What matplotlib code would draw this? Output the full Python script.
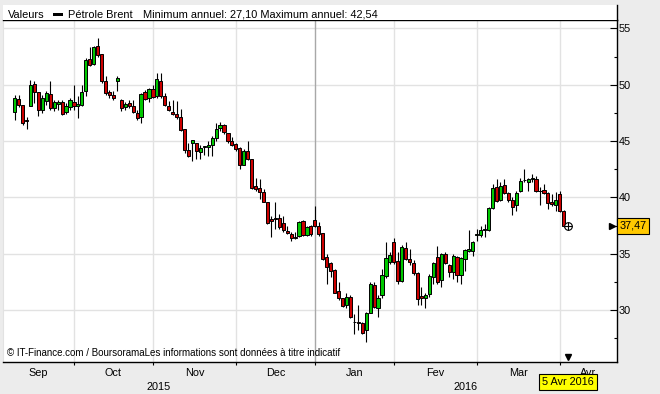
import numpy as np
import matplotlib.pyplot as plt
import matplotlib.transforms as mtransforms
from matplotlib.patches import Rectangle
from matplotlib.lines import Line2D

plt.rcParams['font.family'] = ['Liberation Sans', 'DejaVu Sans']

# months shown on the axis, with the number of sessions drawn in each
months = ['Sep', 'Oct', 'Nov', 'Dec', 'Jan', 'Fev', 'Mar', 'Avr']
month_years = [2015, 2015, 2015, 2015, 2016, 2016, 2016, 2016]
month_sessions = [15, 20, 21, 20, 20, 21, 21, 2]

opens = [47.59, 48.74, 48.21, 46.85, 48.15, 50.09, 49.38, 47.79, 48.59, 49.18,
         47.97, 48.32, 48.50, 47.59, 48.03, 48.44, 48.15, 48.21, 49.41, 52.26,
         51.85, 53.44, 52.73, 50.29, 49.38, 49.12, 50.29, 48.68, 48.03, 48.38,
         48.15, 47.50, 47.09, 49.32, 48.79, 49.62, 49.03, 50.32, 48.97, 48.15,
         47.61, 47.44, 47.14, 46.03, 44.20, 44.85, 44.85, 44.06, 44.47, 44.50,
         44.61, 45.23, 46.17, 46.38, 45.67, 44.97, 44.73, 44.41, 42.91, 44.09,
         43.38, 40.97, 40.79, 40.50, 39.62, 38.09, 38.20, 38.15, 37.71, 37.03,
         36.76, 36.47, 36.56, 37.94, 36.68, 37.44, 37.97, 37.44, 36.85, 34.70,
         34.17, 33.53, 31.70, 31.03, 30.44, 31.14, 28.93, 28.90, 28.82, 28.20,
         29.76, 32.26, 30.20, 31.32, 32.99, 34.26, 36.02, 34.32, 32.55, 35.50,
         34.55, 34.17, 33.32, 31.23, 31.03, 31.44, 32.94, 34.70, 32.64, 34.99,
         33.97, 33.38, 34.70, 33.08, 34.55, 35.20, 35.26, 36.67, 36.70, 37.14,
         37.14, 39.02, 40.88, 39.79, 41.08, 40.35, 39.79, 39.32, 40.58, 41.52,
         41.38, 41.61, 41.67, 40.58, 40.67, 40.38, 39.61, 39.32, 40.29, 38.82]
highs = [49.12, 49.06, 48.21, 47.15, 50.44, 50.29, 49.38, 49.12, 49.41, 50.35,
         48.68, 48.68, 48.68, 48.38, 48.82, 50.00, 48.97, 50.00, 52.35, 53.32,
         53.44, 54.11, 52.73, 50.73, 49.56, 49.41, 50.79, 48.76, 48.44, 48.68,
         48.62, 47.79, 49.26, 49.56, 49.71, 50.00, 51.03, 51.03, 49.26, 48.53,
         48.67, 48.53, 47.85, 46.03, 44.85, 45.06, 44.85, 44.61, 44.53, 45.00,
         45.44, 46.61, 46.67, 46.47, 45.67, 45.38, 44.79, 44.50, 44.32, 45.00,
         43.38, 41.76, 41.62, 40.73, 39.62, 38.38, 39.56, 38.53, 38.38, 37.50,
         36.97, 36.91, 37.94, 38.03, 37.50, 37.56, 39.20, 37.79, 36.85, 34.99,
         34.26, 33.61, 32.50, 31.09, 31.47, 31.32, 29.62, 30.44, 28.97, 29.85,
         32.50, 32.50, 31.32, 33.67, 36.02, 35.14, 36.38, 35.14, 35.73, 36.08,
         35.44, 34.41, 33.38, 32.06, 31.47, 33.20, 34.26, 35.67, 35.08, 35.14,
         34.11, 34.99, 34.79, 34.70, 35.44, 37.14, 36.17, 37.20, 37.49, 37.64,
         39.11, 41.17, 41.61, 41.32, 41.61, 40.44, 39.99, 40.58, 41.76, 42.49,
         41.76, 42.05, 41.91, 40.88, 41.17, 40.44, 40.29, 40.44, 40.58, 38.91]
lows = [46.85, 48.03, 46.41, 46.09, 48.09, 48.38, 47.21, 47.50, 48.24, 47.79,
        47.65, 47.79, 47.35, 47.44, 47.79, 47.79, 47.06, 48.09, 48.97, 51.62,
        51.76, 52.50, 50.15, 49.12, 48.82, 48.68, 49.41, 47.65, 47.79, 47.94,
        47.50, 46.85, 46.62, 48.62, 48.44, 48.82, 48.82, 48.82, 48.09, 47.65,
        47.35, 46.97, 45.88, 43.97, 43.61, 43.23, 43.44, 43.44, 43.73, 43.67,
        43.67, 45.00, 45.88, 45.59, 44.85, 44.56, 44.11, 42.56, 42.85, 43.32,
        40.73, 40.59, 39.85, 39.56, 37.65, 36.47, 37.21, 37.21, 36.91, 36.76,
        36.17, 36.32, 36.47, 36.61, 36.61, 36.61, 37.35, 36.61, 34.41, 32.35,
        32.94, 31.47, 30.88, 30.29, 30.14, 29.32, 27.85, 28.23, 27.85, 27.20,
        29.70, 30.14, 29.41, 31.03, 32.85, 34.11, 34.11, 32.35, 32.50, 34.41,
        33.97, 33.08, 30.44, 30.44, 30.14, 31.20, 32.35, 32.35, 32.06, 34.11,
        32.94, 32.79, 32.50, 32.35, 33.44, 35.14, 34.79, 36.17, 36.47, 36.47,
        37.05, 38.96, 39.55, 39.70, 40.29, 39.55, 38.44, 38.82, 40.44, 41.38,
        40.58, 41.32, 40.44, 39.32, 40.29, 38.96, 39.26, 38.82, 38.73, 37.40]
closes = [48.82, 48.21, 46.62, 46.74, 49.97, 49.38, 47.79, 48.82, 49.26, 47.94,
          48.44, 48.50, 47.44, 48.09, 48.68, 48.15, 48.26, 49.38, 52.20, 51.73,
          53.32, 52.62, 50.29, 49.26, 49.09, 48.82, 50.59, 47.94, 48.32, 48.09,
          47.62, 47.03, 49.21, 48.74, 49.62, 48.91, 50.50, 48.97, 48.24, 47.79,
          47.44, 47.14, 45.94, 44.20, 43.67, 45.06, 44.11, 44.41, 44.53, 44.61,
          45.23, 46.09, 46.38, 45.79, 44.97, 44.67, 44.32, 42.91, 44.15, 43.38,
          40.79, 40.73, 40.44, 39.62, 37.74, 37.94, 38.09, 37.35, 37.06, 36.85,
          36.38, 36.38, 37.85, 36.68, 37.41, 36.76, 37.50, 36.71, 34.55, 33.82,
          33.47, 31.53, 31.03, 30.38, 31.14, 29.41, 28.90, 28.85, 28.00, 29.76,
          32.35, 30.29, 31.03, 33.14, 34.61, 34.91, 34.26, 32.55, 35.58, 34.55,
          34.26, 33.32, 30.97, 31.09, 31.32, 33.03, 34.17, 32.50, 34.99, 34.20,
          33.38, 34.76, 33.14, 34.61, 35.29, 35.44, 36.08, 36.73, 37.14, 37.17,
          39.02, 40.82, 39.64, 41.02, 40.35, 39.79, 39.11, 40.38, 41.47, 41.55,
          41.61, 41.76, 40.58, 40.55, 40.38, 39.47, 39.38, 39.76, 38.82, 37.47]

legend_label = 'Pétrole Brent'
legend_stats = 'Minimum annuel: 27,10 Maximum annuel: 42,54'
source_note = '© IT-Finance.com / BoursoramaLes informations sont données à titre indicatif'
current_date = '5 Avr 2016'

W, H = 660, 394
fig = plt.figure(figsize=(W / 100, H / 100), dpi=100, facecolor='#ECECEC')

# plot area in pixels: x 3..617, y 20..362
ax = fig.add_axes([3 / W, (H - 362) / H, 614 / W, 342 / H])
ax.set_facecolor('white')

n = len(closes)
idx = np.arange(n)
o = np.array(opens); c = np.array(closes)
hi = np.array(highs); lo = np.array(lows)
up = c >= o
cols = np.where(up, '#00C800', '#CC0000')
ax.vlines(idx, lo, hi, color='black', linewidth=0.8, zorder=3)
ax.bar(idx, np.maximum(np.abs(c - o), 0.02), bottom=np.minimum(o, c), width=0.8,
       color=cols, edgecolor='black', linewidth=0.7, zorder=4)

starts = np.concatenate([[0], np.cumsum(month_sessions)[:-1]])
x0, x1 = -2.96, 152.5
ax.set_xlim(x0, x1)
ax.set_ylim(25.39, 55.74)

# grid
for s, yr, prev in zip(starts[1:], month_years[1:], month_years[:-1]):
    ax.axvline(s, color='#A8A8A8' if yr != prev else '#E2E2E2', linewidth=1, zorder=1)
ax.set_yticks(np.arange(30, 56, 5))
ax.set_yticks(np.arange(27.5, 55, 5), minor=True)
ax.yaxis.grid(True, which='major', color='#E2E2E2', linewidth=1, zorder=0)
ax.set_axisbelow(True)

ax.yaxis.tick_right()
ax.tick_params(axis='y', which='major', direction='in', length=5, width=0.8,
               labelsize=7.8, pad=1.5, colors='black')
ax.tick_params(axis='y', which='minor', direction='in', length=2.2, width=0.8)
ax.set_xticks(starts[1:])
ax.set_xticklabels([])
ax.tick_params(axis='x', direction='out', length=2.5, width=0.8)

for side in ['top', 'right', 'bottom']:
    ax.spines[side].set_color('black')
    ax.spines[side].set_linewidth(1)
ax.spines['left'].set_color('#E2E2E2')

# legend band
fig.patches.append(Rectangle((3 / W, (H - 20) / H), 614 / W, 15 / H, transform=fig.transFigure,
                             facecolor='white', edgecolor='none', zorder=0))
fig.lines.append(Line2D([617 / W, 617 / W], [(H - 5) / H, (H - 20) / H], transform=fig.transFigure,
                        color='black', linewidth=1))
ty = 1 - 14.5 / H
fig.text(8 / W, ty, 'Valeurs', fontsize=7.9, va='center')
fig.patches.append(Rectangle((53 / W, 1 - 16 / H), 10 / W, 3 / H, transform=fig.transFigure,
                             facecolor='black', edgecolor='none'))
fig.text(68 / W, ty, legend_label, fontsize=7.9, va='center')
fig.text(143 / W, ty, legend_stats, fontsize=7.9, va='center')

fig.text(7 / W, 1 - 353 / H, source_note, fontsize=7.0, va='center')

# month and year labels
bt = mtransforms.blended_transform_factory(ax.transData, fig.transFigure)
edges = list(starts) + [x1]
edges[0] = x0
for i, m in enumerate(months):
    ax.text((edges[i] + edges[i + 1]) / 2, 1 - 373 / H, m, transform=bt, fontsize=7.8,
            ha='center', va='center', clip_on=False, zorder=1)
year_break = starts[month_years.index(2016)]
ax.text((x0 + year_break) / 2, 1 - 387 / H, '2015', transform=bt, fontsize=7.8,
        ha='center', va='center')
ax.text((year_break + x1) / 2, 1 - 387 / H, '2016', transform=bt, fontsize=7.8,
        ha='center', va='center')

# current date markers
ax.plot([n], [closes[-1]], marker='o', ms=5.5, mfc='white', mec='black', mew=0.8,
        zorder=5, clip_on=False)
ax.plot([n], [closes[-1]], marker='+', ms=5.5, mec='black', mew=0.8, zorder=6, clip_on=False)
xt = mtransforms.blended_transform_factory(ax.transData, ax.transAxes)
ax.plot([n], [0.016], marker='v', ms=5, color='black', transform=xt, clip_on=False, zorder=6)
ax.text(n, 1 - 382 / H, current_date, transform=bt, fontsize=7.8, ha='center', va='center',
        zorder=10, bbox=dict(boxstyle='square,pad=0.28', facecolor='#FFFF00',
                             edgecolor='black', linewidth=0.8))

# last price tag
yt = mtransforms.blended_transform_factory(ax.transAxes, ax.transData)
ax.plot([0.9925], [closes[-1]], marker='>', ms=5, color='black', transform=yt,
        clip_on=False, zorder=6)
ax.text(1.004, closes[-1], f'{closes[-1]:.2f}'.replace('.', ','), transform=yt,
        fontsize=7.8, ha='left', va='center', zorder=10,
        bbox=dict(boxstyle='square,pad=0.25', facecolor='#FFC800', edgecolor='black',
                  linewidth=0.8))

fig.savefig('out.png', dpi=100, facecolor=fig.get_facecolor())
